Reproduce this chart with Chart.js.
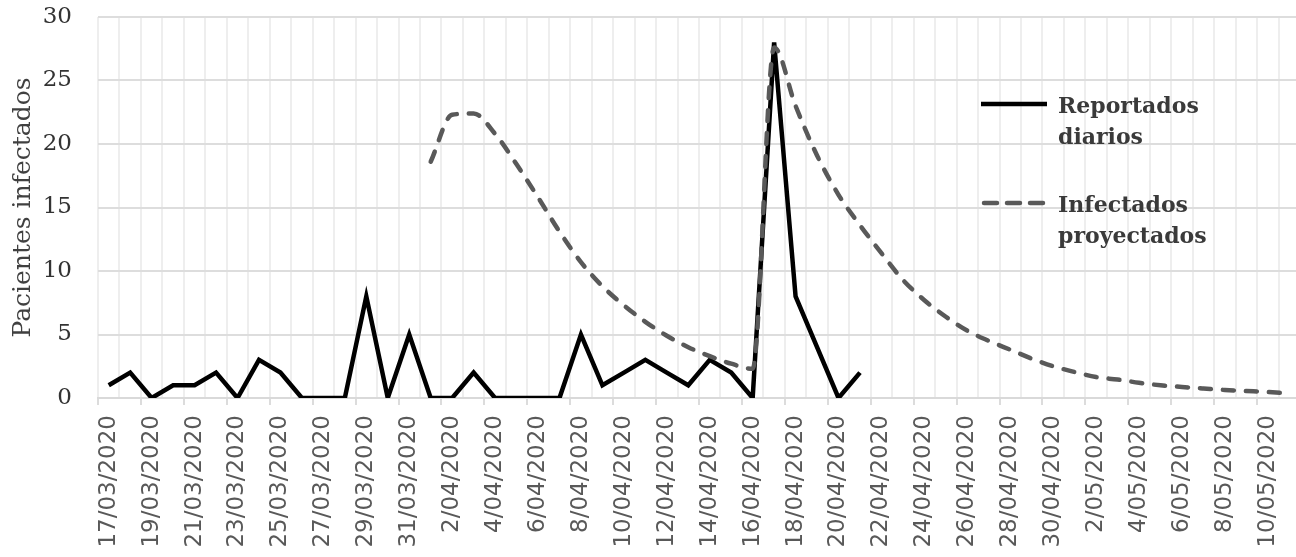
<!DOCTYPE html>
<html>
<head>
<meta charset="utf-8">
<script src="https://cdn.jsdelivr.net/npm/chart.js@4.4.1/dist/chart.umd.min.js"></script>
<style>
  html, body { margin: 0; padding: 0; background: #fff; overflow: hidden; }
  #wrap { width: 1300px; height: 557px; }
</style>
</head>
<body>
<div id="wrap"><canvas id="casosChart"></canvas></div>
<script>
// --- datos del gráfico ---
const fechas = [
    '17/03/2020', '18/03/2020', '19/03/2020', '20/03/2020', '21/03/2020', '22/03/2020', '23/03/2020',
    '24/03/2020', '25/03/2020', '26/03/2020', '27/03/2020', '28/03/2020', '29/03/2020', '30/03/2020',
    '31/03/2020', '1/04/2020', '2/04/2020', '3/04/2020', '4/04/2020', '5/04/2020', '6/04/2020',
    '7/04/2020', '8/04/2020', '9/04/2020', '10/04/2020', '11/04/2020', '12/04/2020', '13/04/2020',
    '14/04/2020', '15/04/2020', '16/04/2020', '17/04/2020', '18/04/2020', '19/04/2020', '20/04/2020',
    '21/04/2020', '22/04/2020', '23/04/2020', '24/04/2020', '25/04/2020', '26/04/2020', '27/04/2020',
    '28/04/2020', '29/04/2020', '30/04/2020', '1/05/2020', '2/05/2020', '3/05/2020', '4/05/2020',
    '5/05/2020', '6/05/2020', '7/05/2020', '8/05/2020', '9/05/2020', '10/05/2020', '11/05/2020'
];

// casos reportados por día (17/03 - 21/04)
const reportados = [
    1, 2, 0, 1, 1, 2, 0, 3, 2, 0, 0, 0, 8, 0, 5, 0, 0, 2,
    0, 0, 0, 0, 5, 1, 2, 3, 2, 1, 3, 2, 0, 28, 8, 4, 0, 2
];

// curva proyectada (empieza el 1/04)
const proyectados = [
    null, null, null, null, null, null, null, null, null, null, null, null, null, null, null,
    18.6, 22.3, 22.4, 20.8, 18.4, 15.8, 13.1, 10.7, 8.8, 7.3, 6.0, 4.9, 4.0, 3.3, 2.7, 2.3,
    27.6, 23.0, 19.1, 16.0, 13.6, 11.4, 9.3, 7.7, 6.4, 5.3, 4.5, 3.8, 3.1, 2.5, 2.05,
    1.65, 1.45, 1.2, 1.0, 0.87, 0.75, 0.63, 0.55, 0.47, 0.35
];

const yTicks = [0, 5, 10, 15, 20, 25, 30];

// leyenda dibujada a mano (texto en dos líneas, como el original)
const leyendaPlugin = {
    id: 'leyendaDosLineas',
    afterDraw(chart) {
        const ctx = chart.ctx;
        const items = [0, 1];
        ctx.save();
        items.forEach((dsIndex, n) => {
            const ds = chart.data.datasets[dsIndex];
            const y = 104 + n * 99;
            ctx.beginPath();
            ctx.strokeStyle = ds.borderColor;
            ctx.lineWidth = ds.borderWidth;
            ctx.lineCap = ds.borderDash ? 'round' : 'butt';
            ctx.setLineDash(ds.borderDash ? [13, 10] : []);
            ctx.moveTo(ds.borderDash ? 984 : 981, y);
            ctx.lineTo(ds.borderDash ? 1044 : 1047, y);
            ctx.stroke();
            ctx.setLineDash([]);

            ctx.fillStyle = '#3a3a3a';
            ctx.font = 'bold 22px "DejaVu Serif"';
            ctx.textAlign = 'left';
            ctx.textBaseline = 'alphabetic';
            const partes = ds.label.split(' ');
            partes.forEach((txt, k) => ctx.fillText(txt, 1058, y + 9 + k * 31));
        });
        ctx.restore();
    }
};

const ctx = document.getElementById('casosChart').getContext('2d');
new Chart(ctx, {
    type: 'line',
    data: {
        labels: fechas,
        datasets: [
            {
                label: 'Reportados diarios',
                data: reportados,
                borderColor: '#000000',
                backgroundColor: '#000000',
                borderWidth: 4.5,
                pointRadius: 0,
                tension: 0,
                order: 1
            },
            {
                label: 'Infectados proyectados',
                data: proyectados,
                borderColor: '#595959',
                backgroundColor: '#595959',
                borderWidth: 4.5,
                borderDash: [11, 12],
                borderCapStyle: 'round',
                pointRadius: 0,
                cubicInterpolationMode: 'monotone',
                order: 0
            }
        ]
    },
    options: {
        responsive: true,
        maintainAspectRatio: false,
        animation: false,
        layout: { padding: { top: 17, right: 0, bottom: 0, left: 0 } },
        plugins: {
            legend: { display: false },
            tooltip: { enabled: false }
        },
        scales: {
            x: {
                offset: true,
                grid: {
                    offset: true,
                    color: '#eeeeee',
                    lineWidth: 2,
                    tickLength: 7,
                    tickWidth: 1.5,
                    tickColor: (c) => (c.index % 2 === 0 ? '#d0d0d0' : 'rgba(0,0,0,0)')
                },
                border: { display: true, color: '#d9d9d9', width: 2 },
                ticks: {
                    autoSkip: false,
                    minRotation: 90,
                    maxRotation: 90,
                    padding: 10,
                    color: '#595959',
                    font: { family: '"DejaVu Sans"', size: 23 },
                    callback: function(value, index) {
                        return index % 2 === 0 ? this.getLabelForValue(value) : '';
                    }
                },
                afterFit(scale) {
                    scale.height = 159;
                    scale.paddingLeft = 0;
                    scale.paddingRight = 0;
                    scale.paddingTop = 0;
                }
            },
            y: {
                min: 0,
                max: 30,
                afterBuildTicks(scale) { scale.ticks = yTicks.map(v => ({ value: v })); },
                grid: { color: '#dddddd', lineWidth: 2, drawTicks: false },
                border: { display: false },
                ticks: {
                    padding: 26,
                    color: '#333333',
                    font: { family: '"DejaVu Serif"', size: 23 }
                },
                title: {
                    display: true,
                    text: 'Pacientes infectados',
                    color: '#404040',
                    font: { family: '"DejaVu Serif"', size: 25 },
                    padding: { top: 8, bottom: 0 }
                },
                afterFit(scale) {
                    scale.width = 98;
                    scale.paddingTop = 0;
                    scale.paddingBottom = 0;
                }
            }
        }
    },
    plugins: [leyendaPlugin]
});
</script>
</body>
</html>
